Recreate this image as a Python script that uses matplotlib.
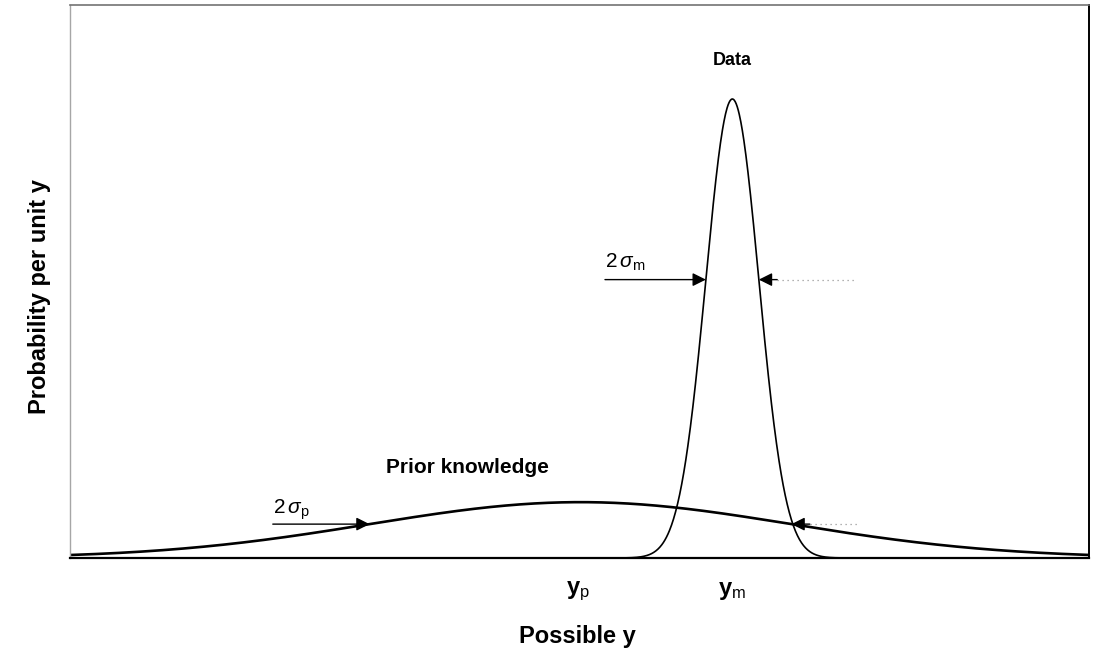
import numpy as np
import matplotlib
matplotlib.use('Agg')
import matplotlib.pyplot as plt

plt.rcParams['font.family'] = ['Liberation Sans', 'DejaVu Sans']
plt.rcParams['mathtext.fontset'] = 'custom'
plt.rcParams['mathtext.rm'] = 'Liberation Sans'
plt.rcParams['mathtext.it'] = 'Liberation Sans:italic'
plt.rcParams['mathtext.bf'] = 'Liberation Sans:bold'

# Gaussian parameters of the two curves (x from 0 to 100, y from 0 to 1)
Y_P = 50.1        # prior mean
SIGMA_P = 20.7    # prior width
AMP_P = 0.101     # prior peak height
Y_M = 65.0        # measurement mean
SIGMA_M = 2.6     # measurement width
AMP_M = 0.83      # measurement peak height

X_MIN, X_MAX = 0, 100


def gauss(x, mu, sig, amp):
    return amp * np.exp(-0.5 * ((x - mu) / sig) ** 2)


x = np.linspace(X_MIN, X_MAX, 2000)
prior = gauss(x, Y_P, SIGMA_P, AMP_P)
data = gauss(x, Y_M, SIGMA_M, AMP_M)

fig = plt.figure(figsize=(10.96, 6.56), dpi=100)
ax = fig.add_axes([70 / 1096, 1 - 558 / 656, 1019 / 1096, 553 / 656])

ax.plot(x, prior, color='black', lw=1.9, solid_capstyle='butt')
ax.plot(x, data, color='black', lw=1.2)

ax.set_xlim(X_MIN, X_MAX)
ax.set_ylim(0, 1)
ax.set_xticks([])
ax.set_yticks([])
ax.spines['bottom'].set_linewidth(1.6)
ax.spines['right'].set_linewidth(1.4)
ax.spines['left'].set_color('0.65')
ax.spines['left'].set_linewidth(1.0)
ax.spines['top'].set_color('0.45')
ax.spines['top'].set_linewidth(1.2)

head = dict(arrowstyle='-|>', mutation_scale=20, lw=1.0, color='black',
            shrinkA=0, shrinkB=0)


def width_arrows(mu, sig, amp, x_left, x_right_end):
    h = gauss(mu - sig, mu, sig, amp)
    # left arrow pointing right, onto the curve
    ax.annotate('', xy=(mu - sig, h), xytext=(x_left, h), arrowprops=head)
    # right arrow pointing left, short black tail then faint dotted line
    ax.annotate('', xy=(mu + sig, h), xytext=(mu + sig + 1.8, h), arrowprops=head)
    ax.plot([mu + sig + 1.8, x_right_end], [h, h], color='0.6', lw=0.9, ls=(0, (1, 3)))
    return h


h_m = width_arrows(Y_M, SIGMA_M, AMP_M, 52.5, 77.0)
h_p = width_arrows(Y_P, SIGMA_P, AMP_P, 19.9, 77.5)

ax.text(52.5, h_m + 0.012, r'$2\,\sigma_{\rm m}$', fontsize=15, ha='left', va='bottom')
ax.text(19.9, h_p + 0.004, r'$2\,\sigma_{\rm p}$', fontsize=15, ha='left', va='bottom')

ax.text(Y_M, 0.90, 'Data', fontsize=13, fontweight='bold', ha='center', va='center')
ax.text(39.0, 0.163, 'Prior knowledge', fontsize=15, fontweight='bold',
        ha='center', va='center')

ax.text(Y_P - 0.3, -0.06, r'$\mathbf{y}_{\rm p}$', fontsize=17, ha='center', va='center',
        clip_on=False)
ax.text(Y_M, -0.06, r'$\mathbf{y}_{\rm m}$', fontsize=17, ha='center', va='center',
        clip_on=False)

fig.text(577 / 1096, 1 - 636 / 656, 'Possible y', fontsize=17, fontweight='bold',
         ha='center', va='center')
fig.text(40 / 1096, 1 - 297 / 656, 'Probability per unit y', fontsize=17,
         fontweight='bold', rotation=90, ha='center', va='center')

fig.savefig('out.png', dpi=100)
